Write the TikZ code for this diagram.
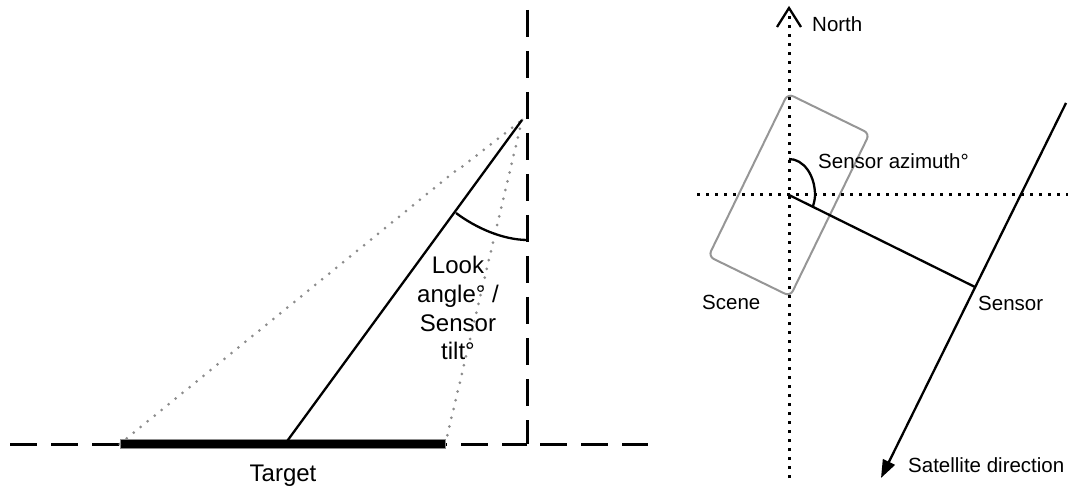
\documentclass[tikz,border=0pt]{standalone}
\usepackage{fontspec}
\setmainfont{Liberation Sans}
\usetikzlibrary{arrows.meta}
\definecolor{dotgray}{RGB}{140,140,140}
\definecolor{scenegray}{RGB}{150,150,150}
\begin{document}
\begin{tikzpicture}[x=1pt,y=-1pt,
  solidline/.style={line width=2.3pt},
  dashline/.style={line width=3pt, dash pattern=on 27pt off 14pt},
  graydots/.style={draw=dotgray,line width=3pt,line cap=round,dash pattern=on 0pt off 9pt},
  blackdots/.style={line width=3pt,dash pattern=on 3pt off 6pt},
  lbig/.style={font=\fontsize{24}{28.8}\selectfont, inner sep=0pt},
  lsmall/.style={font=\fontsize{20.5}{24}\selectfont, inner sep=0pt},
]
\useasboundingbox (0,0) rectangle (1068,486);
% ---------- left figure ----------
\coordinate (sL) at (522,120);
\coordinate (foot) at (285,444);
\coordinate (corner) at (527,444);
\coordinate (vtop) at (527,10);
\coordinate (hleft) at (10,444);
\coordinate (hright0) at (540,444);
\coordinate (hright) at (648,444);
\coordinate (kinkA) at (454,172);
\coordinate (kinkB) at (463,166);
\coordinate (arcA) at (456,213);
\coordinate (arcB) at (528,240);
\draw[dashline] (hleft) -- (corner);
\draw[dashline] (vtop) -- (corner);
\draw[dashline] (hright0) -- (hright);
\node[fill=black, draw=dotgray, line width=0.5pt, minimum width=325pt, minimum height=9pt, inner sep=0pt] (bar) at (282.5,444) {};
\draw[graydots] (bar.west) -- (kinkA) -- (kinkB) -- (sL);
\draw[graydots] (sL) -- (bar.east);
\draw[solidline] (sL) -- (foot);
\draw[solidline] (arcA) .. controls (476,228) and (503,240) .. (arcB);
\node[lbig, align=center] (look) at (458,308) {Look\\angle° /\\Sensor\\tilt°};
\node[lbig, anchor=base] (target) at (283,481.5) {Target};
% ---------- right figure ----------
\coordinate (C) at (789,195);
\coordinate (S) at (975,287);
\coordinate (ntip) at (789,8);
\coordinate (nl) at (777,27);
\coordinate (nr) at (801,27);
\coordinate (vbot) at (789,478);
\coordinate (hl) at (697,195);
\coordinate (hr) at (1068,195);
\coordinate (sattop) at (1066,103);
\coordinate (sattip) at (881,478);
\coordinate (azA) at (789,159);
\coordinate (azM) at (815,195);
\coordinate (azB) at (813,206);
\node[draw=scenegray, line width=2pt, rounded corners=6pt, minimum width=91pt, minimum height=181pt, rotate=-26, inner sep=0pt] (scene) at (C) {};
\draw[blackdots] (vbot) -- (789,12);
\draw[blackdots] (hl) -- (hr);
\draw[line width=2.3pt] (nl) -- (ntip) -- (nr);
\draw[solidline] (C) -- (S);
\draw[solidline, -{Triangle[length=18pt,width=13pt]}] (sattop) -- (sattip);
\draw[solidline] (azA) .. controls (803.4,159) and (815,175) .. (azM) .. controls (815,199) and (814,203) .. (azB);
\node[lsmall, anchor=base west] (north) at (812,32) {North};
\node[lsmall, anchor=base west] (azlabel) at (818,169) {Sensor azimuth°};
\node[lsmall, anchor=base west] (scenelabel) at (702,309) {Scene};
\node[lsmall, anchor=base west] (sensorlabel) at (978,310) {Sensor};
\node[lsmall, anchor=base west] (satlabel) at (908,472) {Satellite direction};
\end{tikzpicture}
\end{document}
